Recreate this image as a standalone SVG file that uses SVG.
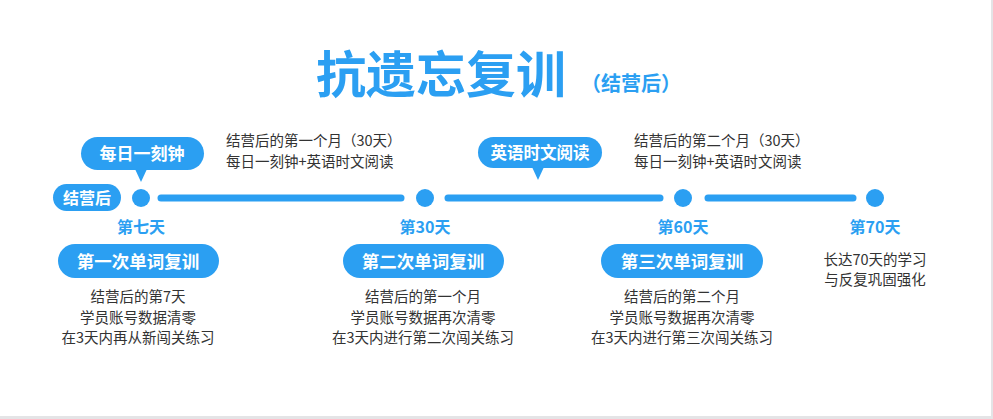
<svg xmlns="http://www.w3.org/2000/svg" width="993" height="419" viewBox="0 0 993 419">
<style>
text{font-family:"Noto Sans CJK SC","Noto Sans",sans-serif}
.b{fill:#2b9ff2}
.w{fill:#fff;font-weight:bold;text-anchor:middle}
.d{fill:#333;font-size:14.5px}
.c{fill:#333;font-size:14.5px;text-anchor:middle}
.l{fill:#2b9ff2;font-size:16px;font-weight:bold;text-anchor:middle}
</style>
<rect width="993" height="419" fill="#e4e4e6"/>
<rect width="991" height="416" fill="#fff"/>
<g id="title">
<text x="441" y="93" font-size="50" font-weight="bold" class="b" text-anchor="middle">抗遗忘复训</text>
<text x="631" y="91" font-size="20" font-weight="bold" class="b" text-anchor="middle">（结营后）</text>
</g>
<g id="connectors" stroke="#2b9ff2" stroke-width="7" stroke-linecap="round">
<line x1="161" y1="198" x2="401" y2="198"/>
<line x1="448" y1="198" x2="660" y2="198"/>
<line x1="708" y1="198" x2="853" y2="198"/>
</g>
<g id="start"><rect x="53" y="184" width="68" height="27" rx="13.5" class="b"/><text x="87" y="204" font-size="16" class="w">结营后</text></g>
<g id="d7"><circle cx="141" cy="198" r="9" class="b"/><text x="141" y="233" class="l">第七天</text></g>
<g id="d30"><circle cx="425" cy="198" r="9" class="b"/><text x="425" y="233" class="l">第30天</text></g>
<g id="d60"><circle cx="683" cy="198" r="9" class="b"/><text x="683" y="233" class="l">第60天</text></g>
<g id="d70"><circle cx="875" cy="198" r="9" class="b"/><text x="875" y="233" class="l">第70天</text>
<text x="875" y="265" class="c">长达70天的学习</text><text x="875" y="285" class="c">与反复巩固强化</text></g>
<g id="bubble1"><rect x="81" y="137" width="123" height="33" rx="16.5" class="b"/><path d="M135 169 L141 182 L147 169Z" class="b"/><text x="142" y="160" font-size="17" class="w">每日一刻钟</text></g>
<g id="bubble2"><rect x="478" y="137" width="124" height="31" rx="15.5" class="b"/><path d="M532 167 L538 180 L544 167Z" class="b"/><text x="540" y="159" font-size="16.5" class="w">英语时文阅读</text></g>
<g id="note1"><text x="226" y="146" class="d">结营后的第一个月（30天）</text><text x="226" y="167" class="d">每日一刻钟+英语时文阅读</text></g>
<g id="note2"><text x="634" y="146" class="d">结营后的第二个月（30天）</text><text x="634" y="167" class="d">每日一刻钟+英语时文阅读</text></g>
<g id="review1"><rect x="58" y="244" width="161" height="34" rx="17" class="b"/><text x="138" y="268" font-size="17.5" class="w">第一次单词复训</text>
<text x="138" y="302" class="c">结营后的第7天</text><text x="138" y="323" class="c">学员账号数据清零</text><text x="138" y="343" class="c">在3天内再从新闯关练习</text></g>
<g id="review2"><rect x="343" y="244" width="161" height="34" rx="17" class="b"/><text x="423" y="268" font-size="17.5" class="w">第二次单词复训</text>
<text x="423" y="302" class="c">结营后的第一个月</text><text x="423" y="323" class="c">学员账号数据再次清零</text><text x="423" y="343" class="c">在3天内进行第二次闯关练习</text></g>
<g id="review3"><rect x="601" y="244" width="162" height="34" rx="17" class="b"/><text x="682" y="268" font-size="17.5" class="w">第三次单词复训</text>
<text x="682" y="302" class="c">结营后的第二个月</text><text x="682" y="323" class="c">学员账号数据再次清零</text><text x="682" y="343" class="c">在3天内进行第三次闯关练习</text></g>
</svg>
